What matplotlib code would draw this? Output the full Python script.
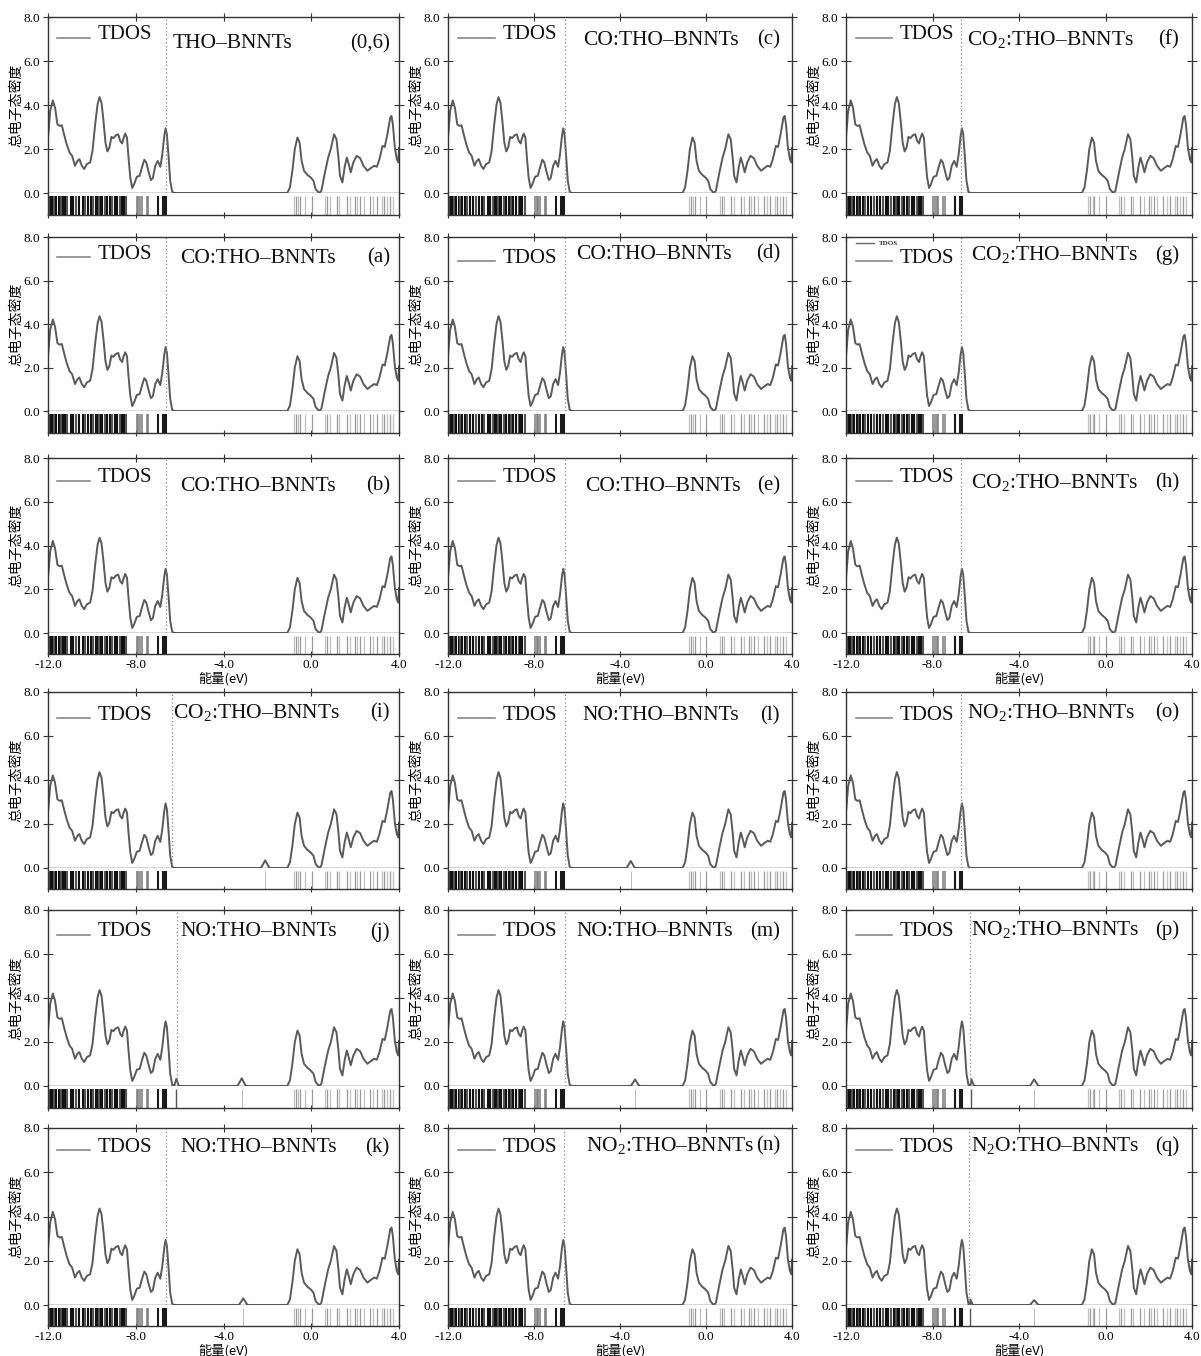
import numpy as np
import matplotlib.pyplot as plt

plt.rcParams.update({'font.family': ['Liberation Serif', 'DejaVu Serif'], 'font.size': 9.5,
                     'mathtext.fontset': 'custom', 'mathtext.rm': 'Liberation Serif'})

cjk = ['Noto Sans CJK SC', 'DejaVu Sans']
W, H = 1201, 1356

val_e = [-12.0, -11.90, -11.78, -11.68, -11.57, -11.47, -11.37, -11.27, -11.15, -11.02,
         -10.90, -10.77, -10.66, -10.57, -10.46, -10.35, -10.23, -10.08, -9.97, -9.85,
         -9.74, -9.65, -9.56, -9.47, -9.38, -9.29, -9.20, -9.11, -9.02, -8.91,
         -8.80, -8.71, -8.62, -8.56, -8.48, -8.40, -8.33, -8.25, -8.16, -8.07,
         -7.95, -7.82, -7.72, -7.61, -7.52, -7.41, -7.31, -7.22, -7.11, -7.00,
         -6.88, -6.79, -6.70, -6.64, -6.58, -6.50, -6.43, -6.34, -6.25]
val_dos = [2.52, 3.73, 4.21, 3.88, 3.12, 3.05, 3.08, 2.67, 2.22, 1.84,
           1.69, 1.24, 1.46, 1.54, 1.24, 1.09, 1.31, 1.39, 1.92, 3.12,
           4.03, 4.36, 4.10, 3.27, 2.29, 1.89, 2.07, 2.55, 2.49, 2.62,
           2.67, 2.37, 2.25, 2.49, 2.70, 2.52, 1.61, 0.71, 0.23, 0.41,
           0.74, 0.78, 1.16, 1.51, 1.39, 0.94, 0.59, 0.68, 1.24, 1.46,
           1.19, 1.76, 2.59, 2.94, 2.67, 1.61, 0.56, 0.06, 0.0]
cond_e = [-1.09, -0.97, -0.86, -0.75, -0.63, -0.53, -0.44, -0.33, -0.18, -0.03,
          0.10, 0.20, 0.36, 0.46, 0.61, 0.77, 0.89, 1.04, 1.15, 1.24,
          1.31, 1.42, 1.52, 1.62, 1.71, 1.80, 1.92, 2.07, 2.23, 2.38,
          2.56, 2.71, 2.87, 2.99, 3.11, 3.25, 3.35, 3.47, 3.60, 3.66,
          3.72, 3.81, 3.90, 3.97, 4.0]
cond_dos = [0.0, 0.26, 1.01, 1.99, 2.52, 2.29, 1.46, 1.01, 0.83, 0.71,
            0.56, 0.18, 0.0, 0.10, 0.86, 1.61, 1.99, 2.67, 2.44, 1.61,
            0.78, 0.48, 1.16, 1.61, 1.31, 0.94, 1.39, 1.69, 1.58, 1.24,
            1.01, 1.13, 1.24, 1.19, 1.54, 2.14, 2.09, 2.67, 3.42, 3.50,
            3.12, 2.07, 1.54, 1.39, 2.05]

# eigenvalue levels shown in the strip under each panel
val_levels = [-11.94, -11.86, -11.78, -11.73, -11.64, -11.51, -11.42, -11.33, -11.23, -11.12,
              -10.97, -10.85, -10.72, -10.57, -10.42, -10.31, -10.16, -10.05, -9.93, -9.80,
              -9.75, -9.68, -9.60, -9.54, -9.40, -9.30, -9.17, -9.07, -8.96, -8.84,
              -8.72, -8.64, -8.54, -8.44, -7.96, -7.88, -7.81, -7.73, -7.50, -7.43,
              -6.97, -6.74, -6.67, -6.62]
cond_levels = [-0.79, -0.70, -0.59, -0.51, -0.29, 0.02, 0.63, 0.73, 0.85, 1.16,
               1.28, 1.61, 1.76, 1.99, 2.10, 2.22, 2.40, 2.68, 2.83, 2.98,
               3.21, 3.31, 3.44, 3.59, 3.71]

# panels, row by row
tags = ['(0,6)', '(c)', '(f)', '(a)', '(d)', '(g)', '(b)', '(e)', '(h)',
        '(i)', '(l)', '(o)', '(j)', '(m)', '(p)', '(k)', '(n)', '(q)']
names = ['THO–BNNTs', 'CO:THO–BNNTs', 'CO$_\\mathrm{2}$:THO–BNNTs',
         'CO:THO–BNNTs', 'CO:THO–BNNTs', 'CO$_\\mathrm{2}$:THO–BNNTs',
         'CO:THO–BNNTs', 'CO:THO–BNNTs', 'CO$_\\mathrm{2}$:THO–BNNTs',
         'CO$_\\mathrm{2}$:THO–BNNTs', 'NO:THO–BNNTs', 'NO$_\\mathrm{2}$:THO–BNNTs',
         'NO:THO–BNNTs', 'NO:THO–BNNTs', 'NO$_\\mathrm{2}$:THO–BNNTs',
         'NO:THO–BNNTs', 'NO$_\\mathrm{2}$:THO–BNNTs', 'N$_\\mathrm{2}$O:THO–BNNTs']
fermi = [-6.62, -6.56, -6.66, -6.62, -6.56, -6.66, -6.62, -6.56, -6.66,
         -6.35, -6.56, -6.66, -6.12, -6.56, -6.25, -6.62, -6.60, -6.30]
# small gas-induced state just above the VBM: (energy, height), None if absent
edge_peak = [None, None, None, None, None, None, None, None, None,
             None, None, None, (-6.15, 0.32), None, (-6.20, 0.30), None, None, (-6.25, 0.25)]
# isolated gas level in the gap
gap_peak = [None, None, None, None, None, None, None, None, None,
            (-2.10, 0.35), (-3.50, 0.32), None, (-3.17, 0.35), (-3.30, 0.30), (-3.30, 0.30),
            (-3.10, 0.30), None, (-3.30, 0.22)]

# layout (pixels of the original)
cols = [(48, 399), (448, 792), (846, 1192)]
rows = [(17, 193, 215), (237, 411, 433), (458, 633, 654),
        (692, 868, 889), (910, 1086, 1108), (1128, 1305, 1326)]
tdos_y = [0.898, 0.898, 0.898, 0.902, 0.879, 0.879, 0.886, 0.886, 0.886,
          0.869, 0.869, 0.869, 0.875, 0.875, 0.875, 0.888, 0.888, 0.888]
name_y = [0.847, 0.869, 0.869, 0.879, 0.902, 0.897, 0.84, 0.84, 0.857,
          0.881, 0.864, 0.881, 0.875, 0.875, 0.886, 0.888, 0.899, 0.899]
name_x = [0.356, 0.392, 0.351, 0.376, 0.372, 0.36, 0.376, 0.40, 0.36,
          0.356, 0.392, 0.351, 0.376, 0.372, 0.36, 0.376, 0.40, 0.36]
line_x = [(0.026, 0.12), (0.03, 0.137), (0.03, 0.134)]
tdos_x = [0.14, 0.16, 0.154]
tag_x = [0.974, 0.965, 0.963]

xt = [-12, -8, -4, 0, 4]
yt = [0, 2, 4, 6, 8]
ink = '#333333'

fig = plt.figure(figsize=(W / 100, H / 100), dpi=100)

for k in range(18):
    r, c = divmod(k, 3)
    left, right = cols[c]
    top, zero, bot = rows[r]
    ax = fig.add_axes([left / W, 1 - zero / H, (right - left) / W, (zero - top) / H])
    st = fig.add_axes([left / W, 1 - bot / H, (right - left) / W, (bot - zero) / H])

    e = list(val_e)
    d = list(val_dos)
    if edge_peak[k] is not None:
        pe, ph = edge_peak[k]
        e += [pe - 0.09, pe, pe + 0.12]
        d += [0.02, ph, 0.0]
    if gap_peak[k] is not None:
        ge, gh = gap_peak[k]
        e += [ge - 0.25, ge - 0.18, ge, ge + 0.18, ge + 0.25]
        d += [0.0, 0.02, gh, 0.02, 0.0]
    e += cond_e
    d += cond_dos
    order = np.argsort(e, kind='stable')
    e = np.array(e)[order]
    d = np.array(d)[order]

    ax.plot(e, d, color='#5a5a5a', lw=1.4, solid_joinstyle='round')
    ax.plot([fermi[k], fermi[k]], [0, 8], color='#888888', lw=0.9, ls=(0, (1, 2)))
    ax.set_xlim(-12, 4)
    ax.set_ylim(0, 8)
    ax.set_xticks(xt)
    ax.set_yticks(yt)
    ax.set_yticklabels(['%.1f' % v for v in yt])
    ax.tick_params(axis='x', direction='inout', length=6, top=True, bottom=False,
                   labelbottom=False, color=ink)
    ax.tick_params(axis='y', direction='inout', length=7, right=True, color=ink,
                   pad=2, labelsize=9.5)
    for s in ax.spines.values():
        s.set_color(ink)
        s.set_linewidth(1.0)
    ax.set_ylabel('总电子态密度', family=cjk, fontsize=10, labelpad=0)

    # legend line + labels
    x0, x1 = line_x[c]
    ax.plot([x0, x1], [tdos_y[k] - 0.015, tdos_y[k] - 0.015], transform=ax.transAxes,
            color='#888888', lw=1.2)
    ax.text(tdos_x[c], tdos_y[k], 'TDOS', transform=ax.transAxes, fontsize=15,
            va='center', ha='left', color='#111111')
    ax.text(name_x[k], name_y[k], names[k], transform=ax.transAxes, fontsize=15.5,
            va='center', ha='left', color='#111111')
    ax.text(tag_x[c], name_y[k], tags[k], transform=ax.transAxes, fontsize=15,
            va='center', ha='right', color='#111111')
    if tags[k] == '(g)':
        ax.plot([0.03, 0.08], [0.965, 0.965], transform=ax.transAxes, color='#666666', lw=1)
        ax.text(0.095, 0.965, 'TDOS', transform=ax.transAxes, fontsize=5,
                weight='bold', va='center', color='#333333')

    # eigenvalue strip
    for i, v in enumerate(val_levels):
        if v < -8.3:
            col = '#111111' if i % 3 else '#555555'
            lw = 1.5
        elif v < -7.0:
            col = '#7a7a7a'
            lw = 1.1
        else:
            col = '#1a1a1a'
            lw = 1.5
        st.vlines(v, 0, 0.85, color=col, lw=lw)
    for i, v in enumerate(cond_levels):
        st.vlines(v, 0, 0.85, color='#9a9a9a' if i % 2 else '#c0c0c0', lw=0.9)
    if edge_peak[k] is not None:
        st.vlines(edge_peak[k][0], 0, 0.85, color='#555555', lw=1.0)
    if gap_peak[k] is not None:
        st.vlines(gap_peak[k][0], 0, 0.85, color='#bbbbbb', lw=0.7)
    st.set_xlim(-12, 4)
    st.set_ylim(0, 1)
    st.set_yticks([])
    st.set_xticks(xt)
    st.spines['top'].set_visible(False)
    for s in ['left', 'right', 'bottom']:
        st.spines[s].set_color(ink)
        st.spines[s].set_linewidth(1.0)
    st.tick_params(axis='x', direction='inout', length=5, color=ink, pad=1, labelsize=9.5)
    if r in (2, 5):
        st.set_xticklabels(['%.1f' % v for v in xt])
        st.set_xlabel('能量(eV)', family=cjk, fontsize=9.5, labelpad=1)
    else:
        st.set_xticklabels([])

fig.savefig('out.png', dpi=100)
